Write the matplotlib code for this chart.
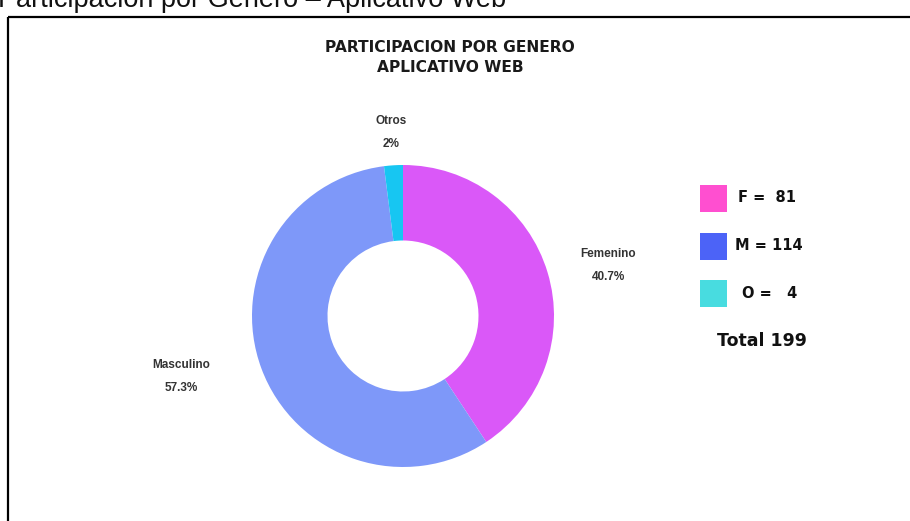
import numpy as np
import matplotlib
matplotlib.use("Agg")
import matplotlib.pyplot as plt
from matplotlib.patches import Rectangle

# datos
generos = ['Femenino', 'Masculino', 'Otros']
cantidades = [81, 114, 4]
pct_txt = ['40.7%', '57.3%', '2%']
colores_dona = ['#DA58F8', '#7E98F9', '#17C6F2']

ley_txt = ['F =  81', 'M = 114', 'O =   4']
colores_ley = ['#FF4FD0', '#4C63F7', '#48DCE0']
total_txt = 'Total 199'

W, H = 910, 521
fig = plt.figure(figsize=(W / 100, H / 100), dpi=100)
fig.patch.set_facecolor('white')

# capa de fondo en pixeles (y hacia abajo)
bg = fig.add_axes([0, 0, 1, 1])
bg.set_xlim(0, W)
bg.set_ylim(H, 0)
bg.axis('off')

# titulo del documento (cortado arriba, como en la captura)
bg.text(-2, 7, 'Participación por Género – Aplicativo Web', fontsize=19.5,
        family='Liberation Sans', color='#111111', va='baseline', ha='left')

# recuadro
bg.plot([8, W + 5], [17, 17], color='black', lw=1.6, solid_capstyle='butt')
bg.plot([8, 8], [17, H + 5], color='black', lw=1.6, solid_capstyle='butt')

bg.text(450, 48, 'PARTICIPACION POR GENERO', fontsize=11.2, fontweight='bold',
        color='#1a1a1a', ha='center', va='center')
bg.text(450, 67, 'APLICATIVO WEB', fontsize=11.2, fontweight='bold',
        color='#1a1a1a', ha='center', va='center')

# leyenda manual
ley_y = [198, 246, 293]
ley_x = [767, 769, 770]
for t, c, y, x in zip(ley_txt, colores_ley, ley_y, ley_x):
    bg.add_patch(Rectangle((700, y - 13.5), 27, 27, color=c, lw=0))
    bg.text(x, y, t, fontsize=10.5, fontweight='bold', color='#111111',
            ha='center', va='center')
bg.text(762, 341, total_txt, fontsize=12.5, fontweight='bold', color='#111111',
        ha='center', va='center')

# dona
cx, cy, r = 403, 316, 151
ax = fig.add_axes([(cx - r) / W, 1 - (cy + r) / H, 2 * r / W, 2 * r / H])
ax.pie(cantidades, colors=colores_dona, startangle=90, counterclock=False,
       radius=1, wedgeprops=dict(width=0.5, linewidth=0))
ax.set_xlim(-1, 1)
ax.set_ylim(-1, 1)
ax.set_aspect('equal')
ax.axis('off')

# etiquetas segun angulo medio de cada porcion
frac = np.array(cantidades) / sum(cantidades)
acum = np.cumsum(frac) - frac / 2
ang = np.deg2rad(90 - acum * 360)
dist = [1.40, 1.52, 1.22]
giro = np.deg2rad([-3.0, -5.0, 0])
for g, p, a, d, s in zip(generos, pct_txt, ang, dist, giro):
    ax.text(d * np.cos(a + s), d * np.sin(a + s), g + '\n' + p, fontsize=8.5,
            fontweight='bold', family='Liberation Sans', color='#333333',
            ha='center', va='center', linespacing=2.2, clip_on=False)

fig.savefig('out.png', dpi=100, facecolor='white')
